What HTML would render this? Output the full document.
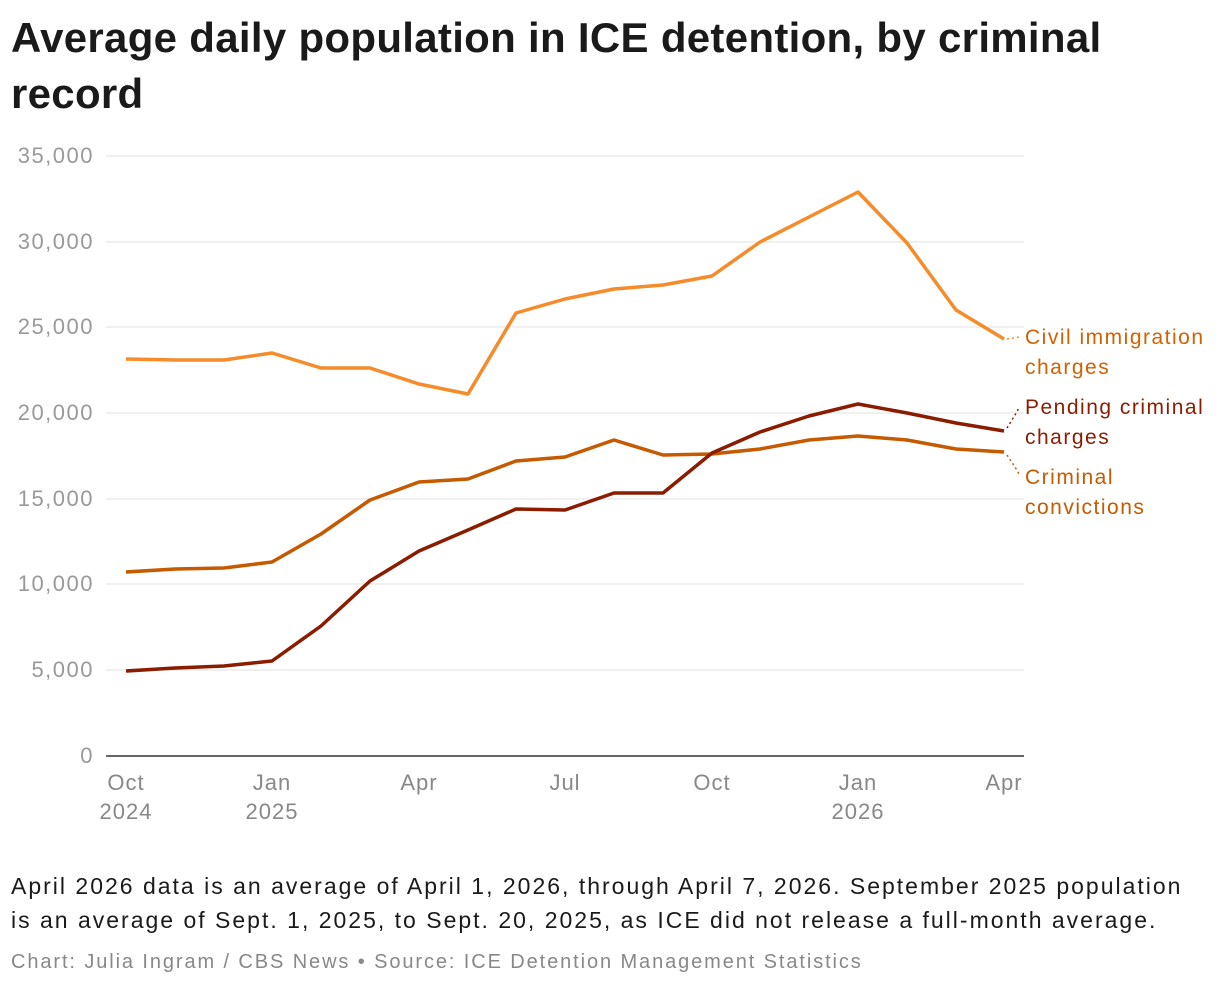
<!DOCTYPE html>
<html><head><meta charset="utf-8"><style>
body{margin:0;background:#fff;width:1220px;height:990px;overflow:hidden;font-family:"Liberation Sans",sans-serif;}
h1{position:absolute;left:11px;top:10px;margin:0;font-size:42px;line-height:56px;font-weight:bold;color:#1a1a1a;width:1200px;letter-spacing:0.3px;white-space:nowrap}
.note{position:absolute;left:11px;top:869px;font-size:23px;line-height:34px;color:#1a1a1a;width:1210px;letter-spacing:2px;white-space:nowrap}
.src{position:absolute;left:11px;top:951px;font-size:20px;color:#888;letter-spacing:1.9px}
</style></head><body>
<h1>Average daily population in ICE detention, by criminal<br>record</h1>
<svg width="1220" height="990" style="position:absolute;left:0;top:0" font-family="Liberation Sans, sans-serif">
<g stroke="#e0e0e0" stroke-width="1">
<line x1="106" x2="1024" y1="156" y2="156"/><line x1="106" x2="1024" y1="242" y2="242"/>
<line x1="106" x2="1024" y1="327" y2="327"/><line x1="106" x2="1024" y1="413" y2="413"/>
<line x1="106" x2="1024" y1="499" y2="499"/><line x1="106" x2="1024" y1="584" y2="584"/>
<line x1="106" x2="1024" y1="670" y2="670"/></g>
<line x1="106" x2="1024" y1="756" y2="756" stroke="#333" stroke-width="1.5"/>
<g fill="#999" font-size="22" text-anchor="end" letter-spacing="1.5">
<text x="94" y="163">35,000</text><text x="94" y="249">30,000</text><text x="94" y="334">25,000</text>
<text x="94" y="420">20,000</text><text x="94" y="506">15,000</text><text x="94" y="591">10,000</text>
<text x="94" y="677">5,000</text><text x="94" y="763">0</text></g>
<g fill="#888" font-size="22" text-anchor="middle" letter-spacing="1">
<text x="126" y="790">Oct</text><text x="126" y="819">2024</text>
<text x="272" y="790">Jan</text><text x="272" y="819">2025</text>
<text x="419" y="790">Apr</text><text x="565" y="790">Jul</text><text x="712" y="790">Oct</text>
<text x="858" y="790">Jan</text><text x="858" y="819">2026</text><text x="1004" y="790">Apr</text></g>
<g fill="none" stroke-width="3.5" stroke-linejoin="round">
<polyline stroke="#f68b2a" points="126,359 175,360 224,360 272,353 321,368 370,368 419,384 468,394 516,313 565,299 614,289 663,285 712,276 760,242 809,217 858,192 907,243 956,310 1004,339"/>
<polyline stroke="#c55a00" points="126,572 175,569 224,568 272,562 321,534 370,500 419,482 468,479 516,461 565,457 614,440 663,455 712,454 760,449 809,440 858,436 907,440 956,449 1004,452"/>
<polyline stroke="#8a1c00" points="126,671 175,668 224,666 272,661 321,626 370,581 419,551 468,530 516,509 565,510 614,493 663,493 712,453 760,432 809,416 858,404 907,413 956,423 1004,431"/>
</g>
<g stroke-width="1.5" stroke-dasharray="2,3" fill="none">
<line x1="1007" y1="339" x2="1019" y2="337" stroke="#f68b2a"/>
<polyline points="1007,428 1015,415 1019,408" stroke="#8a1c00"/>
<polyline points="1007,455 1015,467 1019,474" stroke="#c55a00"/>
</g>
<g font-size="21" letter-spacing="1.5">
<text x="1025" y="344" fill="#d26100">Civil immigration</text><text x="1025" y="374" fill="#d26100">charges</text>
<text x="1025" y="414" fill="#8a1c00">Pending criminal</text><text x="1025" y="444" fill="#8a1c00">charges</text>
<text x="1025" y="484" fill="#c55a00">Criminal</text><text x="1025" y="514" fill="#c55a00">convictions</text>
</g>
</svg>
<div class="note">April 2026 data is an average of April 1, 2026, through April 7, 2026. September 2025 population<br>is an average of Sept. 1, 2025, to Sept. 20, 2025, as ICE did not release a full-month average.</div>
<div class="src">Chart: Julia Ingram / CBS News • Source: ICE Detention Management Statistics</div>
</body></html>
